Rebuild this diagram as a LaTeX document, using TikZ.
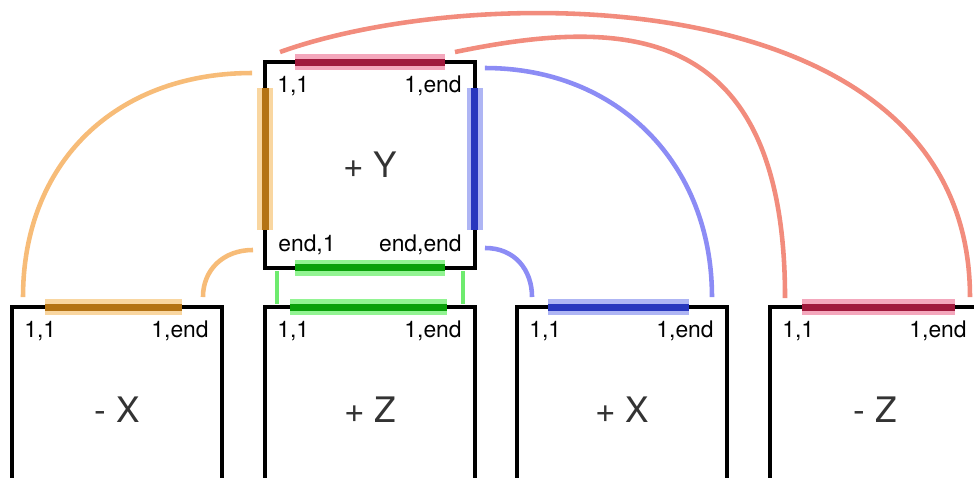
\documentclass[tikz,border=0pt]{standalone}
\usepackage{fontspec}
\setmainfont{TeX Gyre Heros}
\usetikzlibrary{calc}

\definecolor{linkorange}{RGB}{247,188,120}
\definecolor{linkblue}{RGB}{140,140,245}
\definecolor{linkred}{RGB}{242,140,125}
\definecolor{linkgreen}{RGB}{110,235,110}
\definecolor{haloorange}{RGB}{246,196,120}
\definecolor{coreorange}{RGB}{180,115,20}
\definecolor{haloblue}{RGB}{140,150,240}
\definecolor{coreblue}{RGB}{40,55,190}
\definecolor{halored}{RGB}{240,130,160}
\definecolor{corered}{RGB}{160,25,60}
\definecolor{halogreen}{RGB}{100,240,100}
\definecolor{coregreen}{RGB}{10,160,10}

\begin{document}
\begin{tikzpicture}[x=0.02cm, y=0.02cm,
        face/.style={draw, line width=2.8pt, outer sep=0pt, minimum width=4.2cm, minimum height=4.12cm, text=black!80, font=\fontsize{20}{24}\selectfont},
        corner/.style={inner sep=0pt, font=\fontsize{13}{15}\selectfont},
        link/.style={draw=#1, line width=2.6pt},
        hilite/.style 2 args={draw=#2, line width=4pt, preaction={draw=#1, line width=9pt, opacity=0.7}}]
            \useasboundingbox (0,0) rectangle (974,-477);
            \clip (0,0) rectangle (974,-477);
            % faces
            \node[face] (py) at (370,-165) {+ Y};
            \node[face] (mx) at (117,-410) {- X};
            \node[face] (pz) at (370,-410) {+ Z};
            \node[face] (px) at (622,-410) {+ X};
            \node[face] (mz) at (875,-410) {- Z};
            % corner labels
            \node[corner, anchor=base west] (py11) at ($(py.north west)+(12,-30)$) {1,1};
            \node[corner, anchor=base east] (py1e) at ($(py.north east)+(-13,-30)$) {1,end};
            \node[corner, anchor=base west] (pye1) at ($(py.south west)+(13,16)$) {end,1};
            \node[corner, anchor=base east] (pyee) at ($(py.south east)+(-13,16)$) {end,end};
            \node[corner, anchor=base west] (mx11) at ($(mx.north west)+(12,-30)$) {1,1};
            \node[corner, anchor=base east] (mx1e) at ($(mx.north east)+(-13,-30)$) {1,end};
            \node[corner, anchor=base west] (pz11) at ($(pz.north west)+(12,-30)$) {1,1};
            \node[corner, anchor=base east] (pz1e) at ($(pz.north east)+(-13,-30)$) {1,end};
            \node[corner, anchor=base west] (px11) at ($(px.north west)+(12,-30)$) {1,1};
            \node[corner, anchor=base east] (px1e) at ($(px.north east)+(-13,-30)$) {1,end};
            \node[corner, anchor=base west] (mz11) at ($(mz.north west)+(12,-30)$) {1,1};
            \node[corner, anchor=base east] (mz1e) at ($(mz.north east)+(-13,-30)$) {1,end};
            % marked edges
            \draw[hilite={halored}{corered}] ($(py.north west)+(30,0)$) -- ($(py.north east)+(-30,0)$);
            \draw[hilite={haloorange}{coreorange}] ($(py.north west)+(0,-26)$) -- ($(py.south west)+(0,38)$);
            \draw[hilite={haloblue}{coreblue}] ($(py.north east)+(0,-26)$) -- ($(py.south east)+(0,38)$);
            \draw[hilite={halogreen}{coregreen}] ($(py.south west)+(30,0)$) -- ($(py.south east)+(-30,0)$);
            \draw[hilite={halogreen}{coregreen}] ($(pz.north west)+(25,0)$) -- ($(pz.north east)+(-28,0)$);
            \draw[hilite={haloorange}{coreorange}] ($(mx.north west)+(33,0)$) -- ($(mx.north east)+(-40,0)$);
            \draw[hilite={haloblue}{coreblue}] ($(px.north west)+(31,0)$) -- ($(px.north east)+(-38,0)$);
            \draw[hilite={halored}{corered}] ($(mz.north west)+(32,0)$) -- ($(mz.north east)+(-25,0)$);
            % link ends
            \coordinate (oa1) at ($(py.north west)+(-13,-11)$);
            \coordinate (oa2) at ($(mx.north west)+(11,10)$);
            \coordinate (ob1) at ($(py.south west)+(-12,18)$);
            \coordinate (ob2) at ($(mx.north east)+(-19,10)$);
            \coordinate (ga1) at ($(py.south west)+(12,-3)$);
            \coordinate (ga2) at ($(pz.north west)+(12,3)$);
            \coordinate (gb1) at ($(py.south east)+(-12,-3)$);
            \coordinate (gb2) at ($(pz.north east)+(-12,3)$);
            \coordinate (ba1) at ($(py.north east)+(10,-6)$);
            \coordinate (ba2) at ($(px.north east)+(-15,10)$);
            \coordinate (bb1) at ($(py.south east)+(10,20)$);
            \coordinate (bb2) at ($(px.north west)+(15,10)$);
            \coordinate (ra1) at ($(py.north east)+(-20,10)$);
            \coordinate (ra2) at ($(mz.north west)+(15,9)$);
            \coordinate (rb1) at ($(py.north west)+(15,10)$);
            \coordinate (rb2) at ($(mz.north east)+(-10,10)$);
            % links
            \draw[link=linkorange] (oa1) .. controls +(-137,0) and +(0,134) .. (oa2);
            \draw[link=linkorange] (ob1) .. controls +(-30,0) and +(0,27) .. (ob2);
            \draw[link=linkgreen] (ga1) -- (ga2);
            \draw[link=linkgreen] (gb1) -- (gb2);
            \draw[link=linkblue] (ba1) .. controls +(133,0) and +(0,133) .. (ba2);
            \draw[link=linkblue] (bb1) .. controls +(30,0) and +(0,27) .. (bb2);
            \draw[link=linkred] (ra1) .. controls +(165,34) and +(0,280) .. (ra2);
            \draw[link=linkred] (rb1) .. controls +(200,72) and +(0,317) .. (rb2);
        \end{tikzpicture}
\end{document}
